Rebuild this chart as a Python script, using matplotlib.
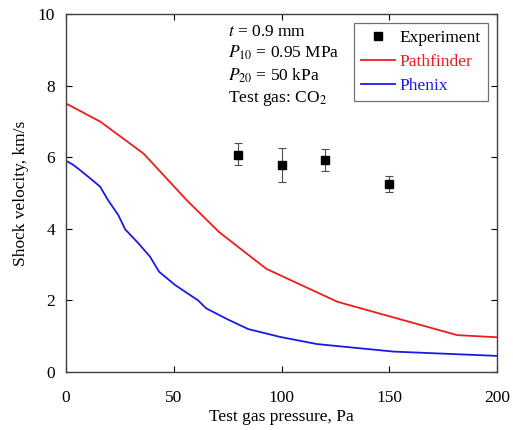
import matplotlib
matplotlib.use("Agg")
import matplotlib.pyplot as plt
from matplotlib.lines import Line2D
import numpy as np

plt.rcParams['font.family'] = ['Liberation Serif', 'DejaVu Serif']
plt.rcParams['mathtext.fontset'] = 'stix'

# experiment
exp_p = [80, 100, 120, 150]
exp_v = [6.06, 5.79, 5.91, 5.24]
exp_lo = [0.29, 0.48, 0.29, 0.21]
exp_hi = [0.35, 0.47, 0.31, 0.24]

# Pathfinder
pf_p = [0, 16, 36, 56, 71, 93, 126, 181.5, 200]
pf_v = [7.5, 6.99, 6.1, 4.8, 3.91, 2.88, 1.96, 1.03, 0.97]

# Phenix
ph_p = [0, 3, 6.5, 11, 15.8, 19.5, 24.3, 27.4, 33.5, 39, 43.2, 50.6, 61.3, 65, 75, 84.5, 99.3, 116.5, 152, 200]
ph_v = [5.9, 5.8, 5.64, 5.42, 5.18, 4.8, 4.38, 3.99, 3.6, 3.22, 2.8, 2.43, 2.0, 1.78, 1.47, 1.2, 0.98, 0.78, 0.57, 0.45]

red = '#ee1c1c'
blue = '#1a1ae6'
fs = 12.5

fig = plt.figure(figsize=(5.13, 4.30), dpi=100)
ax = fig.add_axes([0.1287, 0.1349, 0.8401, 0.8325])

ax.errorbar(exp_p, exp_v, yerr=[exp_lo, exp_hi], fmt='s', color='black', ms=6,
            elinewidth=0.8, capsize=3, capthick=0.8, ecolor='0.3')
ax.plot(pf_p, pf_v, color=red, lw=1.3)
ax.plot(ph_p, ph_v, color=blue, lw=1.3)

ax.set_xlim(0, 200)
ax.set_ylim(0, 10)
ax.set_xticks([0, 50, 100, 150, 200])
ax.set_yticks([0, 2, 4, 6, 8, 10])
ax.tick_params(direction='in', top=True, right=True, labelsize=fs, length=4)
ax.tick_params(axis='x', pad=13)
ax.tick_params(axis='y', pad=8)
for s in ax.spines.values():
    s.set_linewidth(1.0)
    s.set_color('0.25')

ax.set_xlabel('Test gas pressure, Pa', fontsize=fs, labelpad=2)
ax.set_ylabel('Shock velocity, km/s', fontsize=fs, labelpad=6)

txt = "$t$ = 0.9 mm\n$P_{10}$ = 0.95 MPa\n$P_{20}$ = 50 kPa\nTest gas: CO$_2$"
ax.text(0.375, 0.973, txt, transform=ax.transAxes, va='top', ha='left', fontsize=fs,
        linespacing=1.3)

handles = [Line2D([], [], ls='none', marker='s', color='black', ms=6),
           Line2D([], [], color=red, lw=1.3),
           Line2D([], [], color=blue, lw=1.3)]
labels = ['Experiment', 'Pathfinder', 'Phenix']
leg = ax.legend(handles, labels, loc='upper right', bbox_to_anchor=(0.979, 0.975), fontsize=fs,
                frameon=True, fancybox=False, edgecolor='0.3', handlelength=2.0,
                handletextpad=0.25, borderpad=0.4, borderaxespad=0, labelspacing=0.45)
leg.get_frame().set_linewidth(0.9)
for t, c in zip(leg.get_texts(), ['black', red, blue]):
    t.set_color(c)

fig.savefig('out.png', dpi=100)
